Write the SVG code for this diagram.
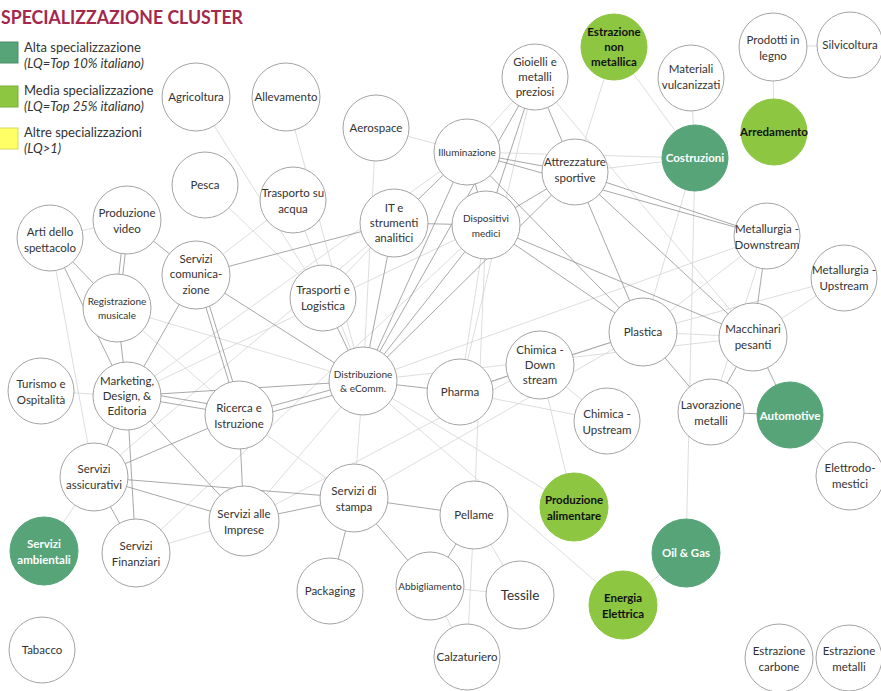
<svg xmlns="http://www.w3.org/2000/svg" width="881" height="691" viewBox="0 0 881 691">
<style>
  .bg{fill:#fff}
  .e1{stroke:#929292;stroke-width:0.8;fill:none}
  .e2{stroke:#d4d4d4;stroke-width:0.8;fill:none}
  .node circle{fill:#fff;stroke:#a4a4a4;stroke-width:1}
  .node.dg circle{fill:#56a478;stroke:#56a478}
  .node.lg circle{fill:#8dc641;stroke:#8dc641}
  .node text{font-family:Lato,"Open Sans","Liberation Sans",sans-serif;font-size:11.5px;fill:#333;text-anchor:middle}
  .node.s text{font-size:10px}
  .node.dg text{fill:#fff;font-weight:bold}
  .node.lg text{fill:#111;font-weight:bold}
  .title{font-family:Lato,"Liberation Sans",sans-serif;font-weight:bold;font-size:19px;fill:#a3284b}
  .lt{font-family:Lato,"Open Sans","Liberation Sans",sans-serif;font-size:13px;fill:#333}
  .li{font-style:italic}
</style>
<rect class="bg" x="0" y="0" width="881" height="691"/>

<g id="legend">
  <text class="title" x="1" y="24" textLength="242" lengthAdjust="spacingAndGlyphs">SPECIALIZZAZIONE CLUSTER</text>
  <rect x="-1" y="42" width="19" height="21" fill="#56a478" stroke="#4a8e67"/>
  <text class="lt" x="24" y="52">Alta specializzazione</text>
  <text class="lt li" x="24" y="68">(LQ=Top 10% italiano)</text>
  <rect x="-1" y="86" width="19" height="21" fill="#8dc641" stroke="#7aae38"/>
  <text class="lt" x="24" y="95">Media specializzazione</text>
  <text class="lt li" x="24" y="111">(LQ=Top 25% italiano)</text>
  <rect x="-1" y="128" width="19" height="21" fill="#ffff66" stroke="#d8d860"/>
  <text class="lt" x="24" y="137">Altre specializzazioni</text>
  <text class="lt li" x="24" y="153">(LQ&gt;1)</text>
</g>

<g id="connectors">
  <line class="e2" x1="773" y1="47" x2="850" y2="45"/>
  <line class="e2" x1="773" y1="47" x2="774" y2="132"/>
  <line class="e2" x1="691" y1="78" x2="695" y2="158"/>
  <line class="e2" x1="614" y1="47" x2="695" y2="158"/>
  <line class="e2" x1="467" y1="152" x2="695" y2="158"/>
  <line class="e2" x1="575" y1="172" x2="695" y2="158"/>
  <line class="e2" x1="695" y1="158" x2="643" y2="332"/>
  <line class="e2" x1="695" y1="158" x2="686" y2="553"/>
  <line class="e2" x1="535" y1="77" x2="467" y2="152"/>
  <line class="e2" x1="535" y1="77" x2="460" y2="392"/>
  <line class="e2" x1="535" y1="77" x2="753" y2="337"/>
  <line class="e2" x1="614" y1="47" x2="575" y2="172"/>
  <line class="e2" x1="486" y1="225" x2="460" y2="392"/>
  <line class="e2" x1="486" y1="225" x2="474" y2="515"/>
  <line class="e2" x1="127" y1="220" x2="50" y2="238"/>
  <line class="e2" x1="50" y1="238" x2="94" y2="477"/>
  <line class="e2" x1="117" y1="308" x2="239" y2="415"/>
  <line class="e2" x1="41" y1="391" x2="127" y2="396"/>
  <line class="e2" x1="94" y1="477" x2="44" y2="551"/>
  <line class="e2" x1="136" y1="553" x2="244" y2="521"/>
  <line class="e2" x1="244" y1="521" x2="363" y2="381"/>
  <line class="e2" x1="354" y1="498" x2="363" y2="381"/>
  <line class="e2" x1="239" y1="415" x2="354" y2="498"/>
  <line class="e2" x1="474" y1="515" x2="520" y2="595"/>
  <line class="e2" x1="474" y1="515" x2="467" y2="657"/>
  <line class="e2" x1="430" y1="586" x2="520" y2="595"/>
  <line class="e2" x1="430" y1="586" x2="467" y2="657"/>
  <line class="e2" x1="540" y1="365" x2="607" y2="421"/>
  <line class="e2" x1="643" y1="332" x2="753" y2="337"/>
  <line class="e2" x1="643" y1="332" x2="767" y2="236"/>
  <line class="e2" x1="643" y1="332" x2="844" y2="278"/>
  <line class="e2" x1="686" y1="553" x2="623" y2="605"/>
  <line class="e2" x1="363" y1="381" x2="623" y2="605"/>
  <line class="e2" x1="363" y1="381" x2="574" y2="507"/>
  <line class="e2" x1="540" y1="365" x2="574" y2="507"/>
  <line class="e2" x1="790" y1="415" x2="850" y2="476"/>
  <line class="e2" x1="196" y1="97" x2="323" y2="298"/>
  <line class="e2" x1="286" y1="97" x2="363" y2="381"/>
  <line class="e2" x1="376" y1="128" x2="467" y2="152"/>
  <line class="e2" x1="376" y1="128" x2="363" y2="381"/>
  <line class="e2" x1="205" y1="185" x2="323" y2="298"/>
  <line class="e2" x1="293" y1="200" x2="196" y2="275"/>
  <line class="e2" x1="293" y1="200" x2="363" y2="381"/>
  <line class="e2" x1="394" y1="223" x2="323" y2="298"/>
  <line class="e2" x1="127" y1="396" x2="467" y2="152"/>
  <line class="e2" x1="127" y1="396" x2="486" y2="225"/>
  <line class="e2" x1="94" y1="477" x2="394" y2="223"/>
  <line class="e2" x1="136" y1="553" x2="486" y2="225"/>
  <line class="e2" x1="244" y1="521" x2="540" y2="365"/>
  <line class="e2" x1="354" y1="498" x2="643" y2="332"/>
  <line class="e2" x1="460" y1="392" x2="643" y2="332"/>
  <line class="e2" x1="460" y1="392" x2="607" y2="421"/>
  <line class="e2" x1="363" y1="381" x2="753" y2="337"/>
  <line class="e2" x1="363" y1="381" x2="767" y2="236"/>
  <line class="e2" x1="117" y1="308" x2="363" y2="381"/>
  <line class="e2" x1="753" y1="337" x2="844" y2="278"/>
  <line class="e2" x1="711" y1="412" x2="767" y2="236"/>
  <line class="e1" x1="467" y1="152" x2="575" y2="172"/>
  <line class="e1" x1="535" y1="77" x2="575" y2="172"/>
  <line class="e1" x1="535" y1="77" x2="486" y2="225"/>
  <line class="e1" x1="535" y1="77" x2="363" y2="381"/>
  <line class="e1" x1="467" y1="152" x2="486" y2="225"/>
  <line class="e1" x1="467" y1="152" x2="394" y2="223"/>
  <line class="e1" x1="467" y1="152" x2="363" y2="381"/>
  <line class="e1" x1="467" y1="152" x2="767" y2="236"/>
  <line class="e1" x1="467" y1="152" x2="643" y2="332"/>
  <line class="e1" x1="575" y1="172" x2="767" y2="236"/>
  <line class="e1" x1="575" y1="172" x2="753" y2="337"/>
  <line class="e1" x1="575" y1="172" x2="643" y2="332"/>
  <line class="e1" x1="575" y1="172" x2="486" y2="225"/>
  <line class="e1" x1="575" y1="172" x2="363" y2="381"/>
  <line class="e1" x1="486" y1="225" x2="643" y2="332"/>
  <line class="e1" x1="486" y1="225" x2="753" y2="337"/>
  <line class="e1" x1="486" y1="225" x2="394" y2="223"/>
  <line class="e1" x1="486" y1="225" x2="363" y2="381"/>
  <line class="e1" x1="394" y1="223" x2="363" y2="381"/>
  <line class="e1" x1="394" y1="223" x2="196" y2="275"/>
  <line class="e1" x1="196" y1="275" x2="363" y2="381"/>
  <line class="e1" x1="196" y1="275" x2="239" y2="415"/>
  <line class="e1" x1="200" y1="275" x2="243" y2="415"/>
  <line class="e1" x1="196" y1="275" x2="127" y2="396"/>
  <line class="e1" x1="196" y1="275" x2="127" y2="220"/>
  <line class="e1" x1="125" y1="220" x2="115" y2="308"/>
  <line class="e1" x1="129" y1="220" x2="119" y2="308"/>
  <line class="e1" x1="50" y1="238" x2="117" y2="308"/>
  <line class="e1" x1="50" y1="238" x2="127" y2="396"/>
  <line class="e1" x1="117" y1="308" x2="127" y2="396"/>
  <line class="e1" x1="127" y1="396" x2="239" y2="415"/>
  <line class="e1" x1="127" y1="390" x2="239" y2="409"/>
  <line class="e1" x1="127" y1="396" x2="363" y2="381"/>
  <line class="e1" x1="127" y1="396" x2="94" y2="477"/>
  <line class="e1" x1="127" y1="396" x2="136" y2="553"/>
  <line class="e1" x1="127" y1="396" x2="244" y2="521"/>
  <line class="e1" x1="239" y1="415" x2="363" y2="381"/>
  <line class="e1" x1="239" y1="421" x2="363" y2="387"/>
  <line class="e1" x1="239" y1="415" x2="244" y2="521"/>
  <line class="e1" x1="239" y1="415" x2="94" y2="477"/>
  <line class="e1" x1="94" y1="477" x2="244" y2="521"/>
  <line class="e1" x1="94" y1="477" x2="354" y2="498"/>
  <line class="e1" x1="94" y1="477" x2="136" y2="553"/>
  <line class="e1" x1="244" y1="521" x2="354" y2="498"/>
  <line class="e1" x1="354" y1="498" x2="474" y2="515"/>
  <line class="e1" x1="354" y1="498" x2="330" y2="591"/>
  <line class="e1" x1="354" y1="498" x2="430" y2="586"/>
  <line class="e1" x1="474" y1="515" x2="430" y2="586"/>
  <line class="e1" x1="363" y1="381" x2="460" y2="392"/>
  <line class="e1" x1="363" y1="381" x2="323" y2="298"/>
  <line class="e1" x1="460" y1="392" x2="540" y2="365"/>
  <line class="e1" x1="540" y1="365" x2="643" y2="332"/>
  <line class="e1" x1="643" y1="332" x2="711" y2="412"/>
  <line class="e1" x1="753" y1="337" x2="767" y2="236"/>
  <line class="e1" x1="753" y1="337" x2="711" y2="412"/>
  <line class="e1" x1="753" y1="337" x2="790" y2="415"/>
  <line class="e1" x1="711" y1="412" x2="790" y2="415"/>
</g>

<g id="n-agricoltura" class="node"><circle cx="196" cy="97" r="34"/><text x="196" y="101">Agricoltura</text></g>
<g id="n-allevamento" class="node"><circle cx="286" cy="97" r="34"/><text x="286" y="101">Allevamento</text></g>
<g id="n-aerospace" class="node"><circle cx="376" cy="128" r="33"/><text x="376" y="132">Aerospace</text></g>
<g id="n-gioielli" class="node"><circle cx="535" cy="77" r="33"/><text x="535" y="66">Gioielli e</text><text x="535" y="81">metalli</text><text x="535" y="96">preziosi</text></g>
<g id="n-estrazione-nm" class="node lg"><circle cx="614" cy="47" r="33"/><text x="614" y="36">Estrazione</text><text x="614" y="51">non</text><text x="614" y="66">metallica</text></g>
<g id="n-materiali" class="node"><circle cx="691" cy="78" r="33"/><text x="691" y="73">Materiali</text><text x="691" y="89">vulcanizzati</text></g>
<g id="n-legno" class="node"><circle cx="773" cy="47" r="34"/><text x="773" y="44">Prodotti in</text><text x="773" y="60">legno</text></g>
<g id="n-silvicoltura" class="node"><circle cx="850" cy="45" r="33"/><text x="850" y="49">Silvicoltura</text></g>
<g id="n-arredamento" class="node lg"><circle cx="774" cy="132" r="33"/><text x="774" y="136">Arredamento</text></g>
<g id="n-costruzioni" class="node dg"><circle cx="695" cy="158" r="33"/><text x="695" y="162">Costruzioni</text></g>
<g id="n-illuminazione" class="node s"><circle cx="467" cy="152" r="33"/><text x="467" y="156">Illuminazione</text></g>
<g id="n-attrezzature" class="node"><circle cx="575" cy="172" r="33"/><text x="575" y="166">Attrezzature</text><text x="575" y="182">sportive</text></g>
<g id="n-pesca" class="node"><circle cx="205" cy="185" r="33"/><text x="205" y="189">Pesca</text></g>
<g id="n-trasporto-acqua" class="node"><circle cx="293" cy="200" r="33"/><text x="293" y="197">Trasporto su</text><text x="293" y="213">acqua</text></g>
<g id="n-it" class="node"><circle cx="394" cy="223" r="34"/><text x="394" y="212">IT e</text><text x="394" y="227">strumenti</text><text x="394" y="242">analitici</text></g>
<g id="n-dispositivi" class="node s"><circle cx="486" cy="225" r="34"/><text x="486" y="222">Dispositivi</text><text x="486" y="237">medici</text></g>
<g id="n-arti" class="node"><circle cx="50" cy="238" r="33"/><text x="50" y="236">Arti dello</text><text x="50" y="252">spettacolo</text></g>
<g id="n-video" class="node"><circle cx="127" cy="220" r="34"/><text x="127" y="217">Produzione</text><text x="127" y="233">video</text></g>
<g id="n-comunicazione" class="node"><circle cx="196" cy="275" r="34"/><text x="196" y="263">Servizi</text><text x="196" y="278">comunica-</text><text x="196" y="294">zione</text></g>
<g id="n-registrazione" class="node s"><circle cx="117" cy="308" r="34"/><text x="117" y="305">Registrazione</text><text x="117" y="319">musicale</text></g>
<g id="n-trasporti-logistica" class="node"><circle cx="323" cy="298" r="33"/><text x="323" y="294">Trasporti e</text><text x="323" y="310">Logistica</text></g>
<g id="n-metallurgia-d" class="node"><circle cx="767" cy="236" r="33"/><text x="767" y="233">Metallurgia -</text><text x="767" y="249">Downstream</text></g>
<g id="n-metallurgia-u" class="node"><circle cx="844" cy="278" r="33"/><text x="844" y="274">Metallurgia -</text><text x="844" y="290">Upstream</text></g>
<g id="n-plastica" class="node"><circle cx="643" cy="332" r="34"/><text x="643" y="336">Plastica</text></g>
<g id="n-macchinari" class="node"><circle cx="753" cy="337" r="34"/><text x="753" y="333">Macchinari</text><text x="753" y="349">pesanti</text></g>
<g id="n-lavorazione" class="node"><circle cx="711" cy="412" r="33"/><text x="711" y="409">Lavorazione</text><text x="711" y="425">metalli</text></g>
<g id="n-automotive" class="node dg"><circle cx="790" cy="415" r="33"/><text x="790" y="420">Automotive</text></g>
<g id="n-chimica-d" class="node"><circle cx="540" cy="365" r="34"/><text x="540" y="354">Chimica -</text><text x="540" y="369">Down</text><text x="540" y="384">stream</text></g>
<g id="n-pharma" class="node"><circle cx="460" cy="392" r="33"/><text x="460" y="396">Pharma</text></g>
<g id="n-distribuzione" class="node s"><circle cx="363" cy="381" r="34"/><text x="363" y="378">Distribuzione</text><text x="363" y="392">&amp; eComm.</text></g>
<g id="n-chimica-u" class="node"><circle cx="607" cy="421" r="33"/><text x="607" y="418">Chimica -</text><text x="607" y="434">Upstream</text></g>
<g id="n-turismo" class="node"><circle cx="41" cy="391" r="33"/><text x="41" y="388">Turismo e</text><text x="41" y="404">Ospitalità</text></g>
<g id="n-marketing" class="node"><circle cx="127" cy="396" r="34"/><text x="127" y="385">Marketing,</text><text x="127" y="400">Design, &amp;</text><text x="127" y="415">Editoria</text></g>
<g id="n-ricerca" class="node"><circle cx="239" cy="415" r="34"/><text x="239" y="412">Ricerca e</text><text x="239" y="428">Istruzione</text></g>
<g id="n-assicurativi" class="node"><circle cx="94" cy="477" r="34"/><text x="94" y="473">Servizi</text><text x="94" y="489">assicurativi</text></g>
<g id="n-imprese" class="node"><circle cx="244" cy="521" r="35"/><text x="244" y="518">Servizi alle</text><text x="244" y="534">Imprese</text></g>
<g id="n-ambientali" class="node dg"><circle cx="44" cy="551" r="34"/><text x="44" y="548">Servizi</text><text x="44" y="564">ambientali</text></g>
<g id="n-finanziari" class="node"><circle cx="136" cy="553" r="34"/><text x="136" y="550">Servizi</text><text x="136" y="566">Finanziari</text></g>
<g id="n-tabacco" class="node"><circle cx="42" cy="650" r="33"/><text x="42" y="654">Tabacco</text></g>
<g id="n-stampa" class="node"><circle cx="354" cy="498" r="34"/><text x="354" y="495">Servizi di</text><text x="354" y="511">stampa</text></g>
<g id="n-pellame" class="node"><circle cx="474" cy="515" r="34"/><text x="474" y="519">Pellame</text></g>
<g id="n-packaging" class="node"><circle cx="330" cy="591" r="33"/><text x="330" y="595">Packaging</text></g>
<g id="n-abbigliamento" class="node s"><circle cx="430" cy="586" r="34"/><text x="430" y="590">Abbigliamento</text></g>
<g id="n-tessile" class="node"><circle cx="520" cy="595" r="34"/><text x="520" y="600" style="font-size:13.5px">Tessile</text></g>
<g id="n-calzaturiero" class="node"><circle cx="467" cy="657" r="33"/><text x="467" y="661">Calzaturiero</text></g>
<g id="n-alimentare" class="node lg"><circle cx="574" cy="507" r="34"/><text x="574" y="504">Produzione</text><text x="574" y="520">alimentare</text></g>
<g id="n-oil" class="node dg"><circle cx="686" cy="553" r="34"/><text x="686" y="557">Oil &amp; Gas</text></g>
<g id="n-energia" class="node lg"><circle cx="623" cy="605" r="34"/><text x="623" y="602">Energia</text><text x="623" y="618">Elettrica</text></g>
<g id="n-elettrodomestici" class="node"><circle cx="850" cy="476" r="34"/><text x="850" y="472">Elettrodo-</text><text x="850" y="488">mestici</text></g>
<g id="n-carbone" class="node"><circle cx="779" cy="658" r="34"/><text x="779" y="655">Estrazione</text><text x="779" y="671">carbone</text></g>
<g id="n-metalli" class="node"><circle cx="849" cy="658" r="33"/><text x="849" y="655">Estrazione</text><text x="849" y="671">metalli</text></g>
</svg>
